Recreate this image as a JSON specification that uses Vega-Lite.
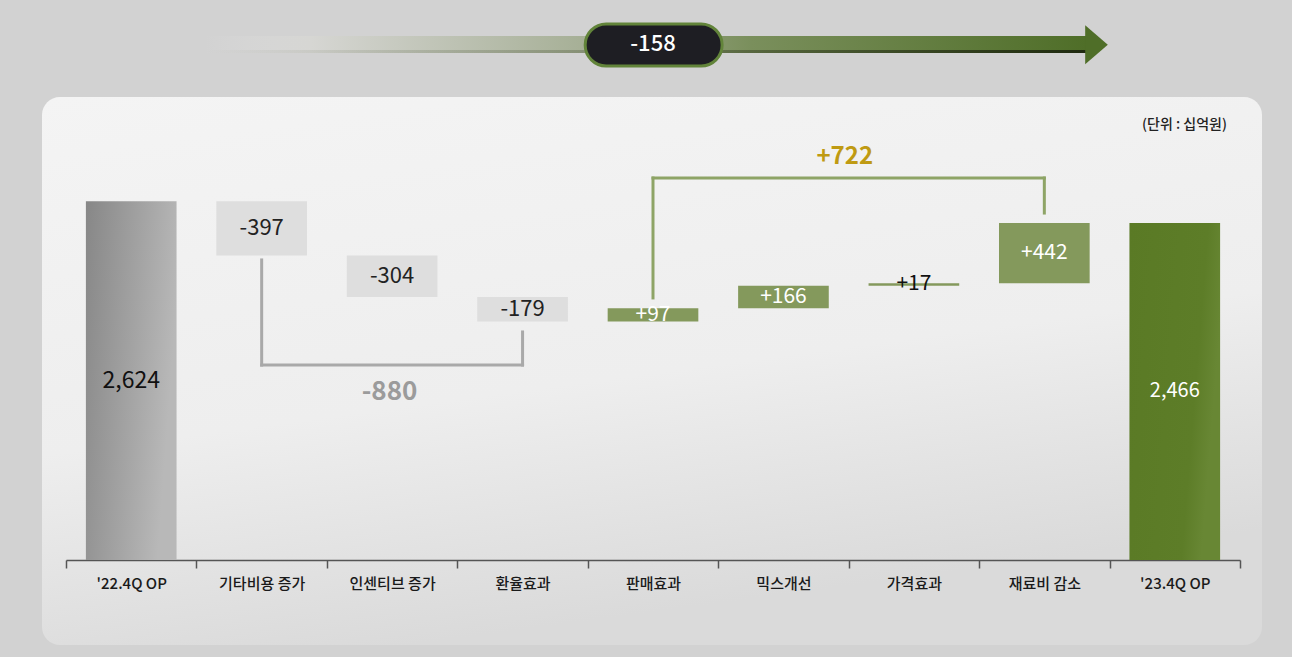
{
  "$schema": "https://vega.github.io/schema/vega-lite/v6.json",
  "width": 1220,
  "height": 548,
  "autosize": {"type": "none"},
  "padding": {"left": 42, "top": 97, "right": 30, "bottom": 12},
  "background": "#d2d2d2",
  "config": {
    "font": "Noto Sans CJK KR",
    "view": {
      "stroke": null,
      "cornerRadius": 18,
      "fill": {"gradient": "linear", "x1": 0, "y1": 0, "x2": 0.3, "y2": 1,
        "stops": [{"offset": 0, "color": "#f4f4f4"}, {"offset": 0.6, "color": "#eeeeee"}, {"offset": 1, "color": "#dadada"}]}
    }
  },
  "datasets": {
    "wf": [
      {"item": "'22.4Q OP", "start": 0, "end": 2624, "label": "2,624", "kind": "start"},
      {"item": "기타비용 증가", "start": 2624, "end": 2227, "label": "-397", "kind": "dec"},
      {"item": "인센티브 증가", "start": 2227, "end": 1923, "label": "-304", "kind": "dec"},
      {"item": "환율효과", "start": 1923, "end": 1744, "label": "-179", "kind": "dec"},
      {"item": "판매효과", "start": 1744, "end": 1841, "label": "+97", "kind": "inc"},
      {"item": "믹스개선", "start": 1841, "end": 2007, "label": "+166", "kind": "inc"},
      {"item": "가격효과", "start": 2007, "end": 2024, "label": "+17", "kind": "inc"},
      {"item": "재료비 감소", "start": 2024, "end": 2466, "label": "+442", "kind": "inc"},
      {"item": "'23.4Q OP", "start": 0, "end": 2466, "label": "2,466", "kind": "end"}
    ],
    "links": [
      {"grp": "neg", "from": "기타비용 증가", "to": "기타비용 증가", "y": 2195, "y2": 1426},
      {"grp": "neg", "from": "기타비용 증가", "to": "환율효과", "y": 1426, "y2": 1426},
      {"grp": "neg", "from": "환율효과", "to": "환율효과", "y": 1426, "y2": 1668},
      {"grp": "pos", "from": "판매효과", "to": "판매효과", "y": 1917, "y2": 2794},
      {"grp": "pos", "from": "판매효과", "to": "재료비 감소", "y": 2794, "y2": 2794},
      {"grp": "pos", "from": "재료비 감소", "to": "재료비 감소", "y": 2794, "y2": 2538}
    ]
  },
  "layer": [
    {
      "layer": [
        {
          "data": {"name": "wf"},
          "transform": [{"filter": "datum.kind === 'start'"}],
          "mark": {"type": "bar", "width": {"band": 0.695},
            "fill": {"gradient": "linear", "x1": 0, "y1": 0, "x2": 1, "y2": 0.3,
              "stops": [{"offset": 0, "color": "#878787"}, {"offset": 0.6, "color": "#a4a4a4"}, {"offset": 1, "color": "#b8b8b8"}]}},
          "encoding": {
            "x": {"field": "item", "type": "nominal", "title": null,
              "scale": {"domain": ["'22.4Q OP", "기타비용 증가", "인센티브 증가", "환율효과", "판매효과", "믹스개선", "가격효과", "재료비 감소", "'23.4Q OP"],
                "range": [24, 1198], "paddingInner": 0, "paddingOuter": 0},
              "axis": {"offset": -85, "labelAngle": 0, "tickBand": "extent", "domainColor": "#555555", "domainWidth": 1.5,
                "tickColor": "#555555", "tickWidth": 1.5, "tickSize": 8, "labelFontSize": 15, "labelColor": "#1a1a1a",
                "labelFontWeight": 500, "labelPadding": 8, "labelFont": "Noto Sans CJK KR"}},
            "y": {"field": "end", "type": "quantitative", "scale": {"domain": [-622, 3387], "nice": false, "zero": false}, "axis": null},
            "y2": {"field": "start"}
          }
        },
        {
          "data": {"name": "wf"},
          "transform": [{"filter": "datum.kind === 'end'"}],
          "mark": {"type": "bar", "width": {"band": 0.695},
            "fill": {"gradient": "linear", "x1": 0, "y1": 0, "x2": 1, "y2": 0.3,
              "stops": [{"offset": 0, "color": "#5a7a25"}, {"offset": 0.8, "color": "#5d7d28"}, {"offset": 1, "color": "#688734"}]}},
          "encoding": {
            "x": {"field": "item", "type": "nominal"},
            "y": {"field": "end", "type": "quantitative"},
            "y2": {"field": "start"}
          }
        },
        {
          "data": {"name": "wf"},
          "transform": [{"filter": "datum.kind === 'dec' || datum.kind === 'inc'"}],
          "mark": {"type": "bar", "width": {"band": 0.695}},
          "encoding": {
            "x": {"field": "item", "type": "nominal"},
            "y": {"field": "end", "type": "quantitative"},
            "y2": {"field": "start"},
            "fill": {"field": "kind", "type": "nominal", "scale": {"domain": ["dec", "inc"], "range": ["#dedede", "#84995c"]}, "legend": null}
          }
        },
        {
          "data": {"name": "links"},
          "mark": {"type": "rule", "strokeWidth": 3, "strokeCap": "square"},
          "encoding": {
            "x": {"field": "from", "type": "nominal"},
            "x2": {"field": "to"},
            "y": {"field": "y", "type": "quantitative"},
            "y2": {"field": "y2"},
            "stroke": {"field": "grp", "type": "nominal", "scale": {"domain": ["neg", "pos"], "range": ["#a9a9a9", "#8ea466"]}, "legend": null}
          }
        },
        {
          "data": {"name": "wf"},
          "transform": [{"fold": ["start", "end"], "as": ["k", "v"]}],
          "mark": {"type": "text", "baseline": "middle", "align": "center", "font": "Noto Sans CJK KR"},
          "encoding": {
            "x": {"field": "item", "type": "nominal"},
            "y": {"aggregate": "mean", "field": "v", "type": "quantitative"},
            "text": {"field": "label", "type": "nominal"},
            "color": {"condition": {"test": "datum.label === '+17'", "value": "#111111"},
              "field": "kind", "type": "nominal", "scale": {"domain": ["start", "dec", "inc", "end"], "range": ["#111111", "#222222", "#ffffff", "#ffffff"]}, "legend": null},
            "size": {"field": "kind", "type": "nominal", "scale": {"domain": ["start", "dec", "inc", "end"], "range": [23, 20, 20, 23]}, "legend": null}
          }
        }
      ],
      "resolve": {"scale": {"fill": "independent", "stroke": "independent", "color": "independent", "size": "independent"}}
    },
    {
      "data": {"values": [{}]},
      "layer": [
        {
          "mark": {"type": "rect",
            "fill": {"gradient": "linear", "x1": 0, "y1": 0, "x2": 1, "y2": 0,
              "stops": [{"offset": 0, "color": "rgba(220,220,220,0)"}, {"offset": 0.12, "color": "#d6d6d3"}, {"offset": 0.45, "color": "#a3ad92"}, {"offset": 0.62, "color": "#7a8f5c"}, {"offset": 1, "color": "#4f6e28"}]}},
          "encoding": {
            "x": {"datum": 1.07, "type": "quantitative", "scale": {"domain": [0, 9], "range": [24, 1198], "nice": false, "zero": false}, "axis": null},
            "x2": {"datum": 7.82},
            "y": {"datum": 3833, "type": "quantitative"},
            "y2": {"datum": 3709}
          }
        },
        {
          "mark": {"type": "rect",
            "fill": {"gradient": "linear", "x1": 0, "y1": 0, "x2": 1, "y2": 0,
              "stops": [{"offset": 0, "color": "rgba(60,70,40,0)"}, {"offset": 0.5, "color": "rgba(60,70,40,0.35)"}, {"offset": 1, "color": "#1f2a10"}]}},
          "encoding": {
            "x": {"datum": 1.07, "type": "quantitative"},
            "x2": {"datum": 7.82},
            "y": {"datum": 3731, "type": "quantitative"},
            "y2": {"datum": 3709}
          }
        },
        {
          "mark": {"type": "point", "shape": "M-0.58,-1L0.58,0L-0.58,1Z", "filled": true, "fill": "#4f6e28", "opacity": 1, "size": 1521, "strokeWidth": 0},
          "encoding": {
            "x": {"datum": 7.9, "type": "quantitative"},
            "y": {"datum": 3770, "type": "quantitative"}
          }
        },
        {
          "mark": {"type": "rect", "cornerRadius": 21, "fill": "#1e1e23", "stroke": "#62843a", "strokeWidth": 3},
          "encoding": {
            "x": {"datum": 3.98, "type": "quantitative"},
            "x2": {"datum": 5.03},
            "y": {"datum": 3921, "type": "quantitative"},
            "y2": {"datum": 3614}
          }
        },
        {
          "mark": {"type": "text", "text": "-158", "fontSize": 22, "fontWeight": 500, "color": "#ffffff", "baseline": "middle", "align": "center"},
          "encoding": {
            "x": {"datum": 4.5, "type": "quantitative"},
            "y": {"datum": 3775, "type": "quantitative"}
          }
        },
        {
          "mark": {"type": "text", "text": "(단위 : 십억원)", "fontSize": 14, "fontWeight": 500, "color": "#222222", "baseline": "middle", "align": "right"},
          "encoding": {
            "x": {"datum": 8.9, "type": "quantitative"},
            "y": {"datum": 3182, "type": "quantitative"}
          }
        },
        {
          "mark": {"type": "text", "text": "-880", "fontSize": 26, "fontWeight": "bold", "color": "#9b9b9b", "baseline": "middle", "align": "center"},
          "encoding": {
            "x": {"datum": 2.48, "type": "quantitative"},
            "y": {"datum": 1229, "type": "quantitative"}
          }
        },
        {
          "mark": {"type": "text", "text": "+722", "fontSize": 24, "fontWeight": "bold", "color": "#bf9a12", "baseline": "middle", "align": "center"},
          "encoding": {
            "x": {"datum": 5.97, "type": "quantitative"},
            "y": {"datum": 2948, "type": "quantitative"}
          }
        }
      ]
    }
  ],
  "resolve": {"scale": {"x": "independent"}}
}
